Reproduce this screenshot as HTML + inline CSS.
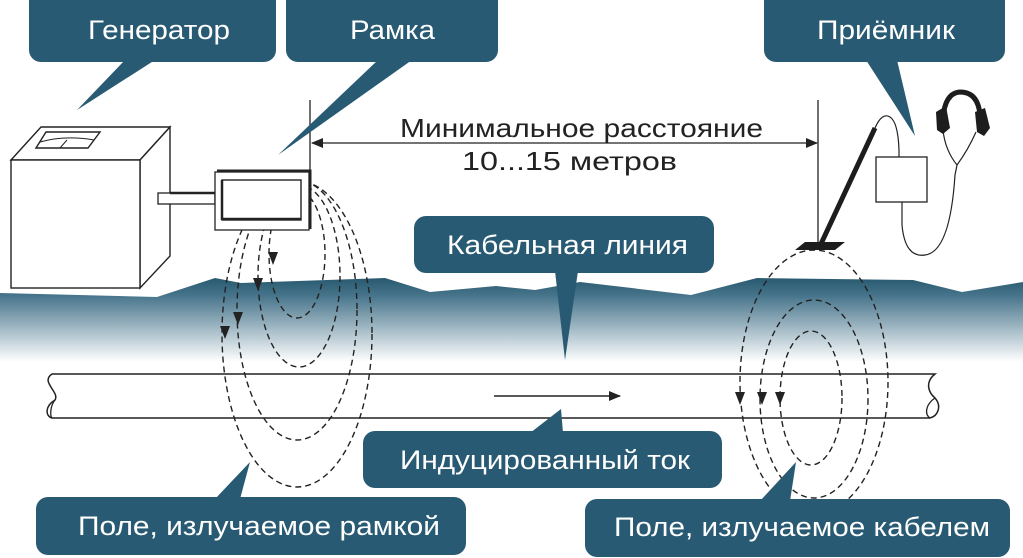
<!DOCTYPE html>
<html><head><meta charset="utf-8"><style>
html,body{margin:0;padding:0;background:#fff;}
svg{display:block;}
text{font-family:"Liberation Sans Narrow","Liberation Sans",sans-serif;}
</style></head><body>
<svg width="1023" height="558" viewBox="0 0 1023 558" xmlns="http://www.w3.org/2000/svg">
<defs>
<linearGradient id="g" x1="0" y1="0" x2="0" y2="1">
<stop offset="0" stop-color="#28596f"/>
<stop offset="0.2" stop-color="#45738a"/>
<stop offset="1" stop-color="#ffffff"/>
</linearGradient>
<marker id="ah" markerWidth="12" markerHeight="10" refX="11" refY="5" orient="auto" markerUnits="userSpaceOnUse">
<path d="M0,0 L12,5 L0,10 Z" fill="#222"/>
</marker>
</defs>
<path d="M0,293 L157,297 L215,278 L241,283 L385,278 L430,292 L496,286 L535,290 L580,282 L691,295 L757,278 L913,280 L962,292 L1023,282 L1023,362 L0,362 Z" fill="url(#g)"/>

<path d="M52,374 L935,374 C925,382 928,392 935,398 C942,406 938,416 930,418 L52,418 C45,416 45,406 55,400 C60,392 40,382 52,374 Z" fill="#fff" stroke="#222" stroke-width="1.5"/>
<path d="M930,418 C924,414 926,404 935,398" fill="none" stroke="#222" stroke-width="1.3"/>
<path d="M55,400 C50,406 50,416 52,418" fill="none" stroke="#222" stroke-width="1.3"/>
<line x1="494" y1="396" x2="620" y2="396" stroke="#222" stroke-width="1.5" marker-end="url(#ah)"/>

<g fill="none" stroke="#222" stroke-width="1.4" stroke-dasharray="6,4">
<ellipse cx="297" cy="254" rx="28" ry="64"/>
<ellipse cx="299" cy="276" rx="41" ry="91"/>
<ellipse cx="297" cy="310" rx="60" ry="130"/>
<ellipse cx="297" cy="334" rx="75" ry="153"/>
<ellipse cx="814" cy="382" rx="74" ry="132"/>
<ellipse cx="814" cy="399" rx="54" ry="99"/>
<ellipse cx="811" cy="398" rx="31" ry="67"/>
</g>
<g fill="#222">
<path d="M268,252 l5,13 l5,-13 z"/>
<path d="M253,278 l5,13 l5,-13 z"/>
<path d="M233,312 l5,13 l5,-13 z"/>
<path d="M220,326 l5,13 l5,-13 z"/>
<path d="M735,392 l5,13 l5,-13 z"/>
<path d="M757,392 l5,13 l5,-13 z"/>
<path d="M775,392 l5,13 l5,-13 z"/>
</g>

<g fill="#fff" stroke="#222" stroke-width="1.4">
<path d="M11,160 L41,127 L170,127 L140,160 Z"/>
<path d="M140,160 L170,127 L170,256 L140,288 Z"/>
<rect x="11" y="160" width="129" height="128"/>
<path d="M36,148 L46,132 L100,132 L88,148 Z"/>
</g>
<path d="M40,142 Q65,135 94,140 M67,140 L60,148" fill="none" stroke="#222" stroke-width="1"/>

<rect x="158" y="193" width="57" height="11" fill="#fff" stroke="#222" stroke-width="1.3"/>
<line x1="170" y1="193" x2="215" y2="193" stroke="#222" stroke-width="2.5"/>
<rect x="215" y="172" width="94" height="58" fill="#fff" stroke="#222" stroke-width="1.3"/>
<path d="M217,171 L310,171 L310,229" fill="none" stroke="#222" stroke-width="3"/>
<rect x="222" y="180" width="79" height="40" fill="none" stroke="#222" stroke-width="1.4"/>
<path d="M222,220 L222,180 M222,219 L301,219" stroke="#222" stroke-width="2.5"/>

<line x1="310" y1="100" x2="310" y2="175" stroke="#222" stroke-width="1.3"/>
<line x1="818" y1="100" x2="818" y2="250" stroke="#222" stroke-width="1.3"/>
<line x1="312" y1="143" x2="817" y2="143" stroke="#222" stroke-width="1.3" marker-end="url(#ah)"/>
<path d="M311,143 L323,138 L323,148 Z" fill="#222"/>
<text x="400" y="137" font-size="26" textLength="363" lengthAdjust="spacingAndGlyphs" fill="#222">Минимальное расстояние</text>
<text x="462" y="170" font-size="26" textLength="215" lengthAdjust="spacingAndGlyphs" fill="#222">10...15 метров</text>

<path d="M795,250 L805,242 L845,242 L835,250 Z" fill="#1d1d1d"/>
<line x1="820" y1="246" x2="875" y2="128" stroke="#1d1d1d" stroke-width="5"/>
<path d="M875,128 Q882,112 890,117 Q898,122 899,150 L899,157" fill="none" stroke="#222" stroke-width="1.2"/>
<rect x="876" y="157" width="51" height="45" fill="#fff" stroke="#222" stroke-width="1.3"/>
<path d="M902,202 L902,225 Q905,258 925,255 Q950,252 955,175 L957,165 Q945,150 943,130 M957,165 Q968,150 976,132" fill="none" stroke="#222" stroke-width="1.2"/>
<path d="M943,118 Q945,93 960,92 Q978,92 980,115" fill="none" stroke="#1d1d1d" stroke-width="5"/>
<path d="M936,112 L946,106 L950,128 L943,134 L937,130 Z M975,112 L985,108 L990,128 L984,136 L977,132 Z" fill="#1d1d1d"/>

<g fill="#285a73">
<rect x="29" y="-12" width="247" height="74" rx="12"/>
<path d="M125,60 L155,60 L77,110 Z"/>
<rect x="286" y="-12" width="212" height="74" rx="12"/>
<path d="M378,60 L412,60 L278,155 Z"/>
<rect x="764" y="-12" width="241" height="74" rx="12"/>
<path d="M866,60 L897,60 L915,136 Z"/>
<rect x="414" y="216" width="300" height="57" rx="12"/>
<path d="M555,271 L578,271 L565,360 Z"/>
<rect x="363" y="431" width="359" height="57" rx="12"/>
<path d="M530,433 L563,433 L561,409 Z"/>
<rect x="36" y="497" width="430" height="58" rx="12"/>
<path d="M215,499 L240,499 L250,462 Z"/>
<rect x="585" y="499" width="425" height="58" rx="12"/>
<path d="M760,501 L790,501 L796,462 Z"/>
</g>
<g fill="#fff" font-size="27">
<text x="88" y="39" textLength="142" lengthAdjust="spacingAndGlyphs">Генератор</text>
<text x="350" y="39" textLength="85" lengthAdjust="spacingAndGlyphs">Рамка</text>
<text x="817" y="39" textLength="138" lengthAdjust="spacingAndGlyphs">Приёмник</text>
<text x="447" y="254" textLength="241" lengthAdjust="spacingAndGlyphs">Кабельная линия</text>
<text x="400" y="469" textLength="290" lengthAdjust="spacingAndGlyphs">Индуцированный ток</text>
<text x="78" y="535" textLength="362" lengthAdjust="spacingAndGlyphs">Поле, излучаемое рамкой</text>
<text x="614" y="536" textLength="376" lengthAdjust="spacingAndGlyphs">Поле, излучаемое кабелем</text>
</g>
</svg>
</body></html>
